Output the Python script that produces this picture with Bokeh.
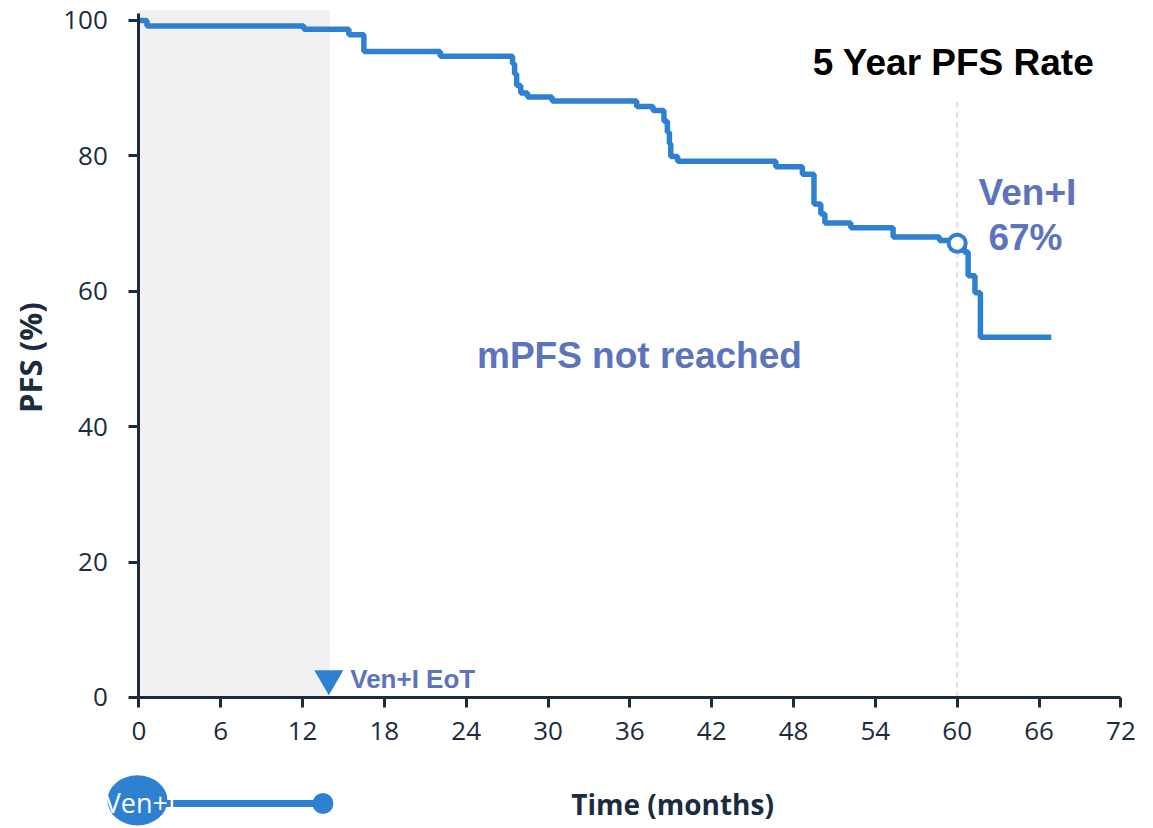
import numpy as np
from bokeh.plotting import figure
from bokeh.models import Range1d, LinearAxis, FixedTicker
from bokeh.core.properties import value
from bokeh.embed import file_html
from bokeh.resources import INLINE

# ---- data ----
km_time = [0, 0.6, 12.1, 15.4, 16.5, 22.1, 27.4, 27.55, 27.7, 28.0, 28.5, 30.3,
           36.5, 37.7, 38.5, 38.75, 38.9, 39.0, 39.5, 46.7, 48.65, 49.5, 50.0,
           50.3, 52.2, 55.3, 58.7, 60.5, 60.8, 61.3, 61.7, 66.9]
km_pfs = [100, 99.2, 98.7, 97.9, 95.4, 94.7, 93.6, 92.1, 90.4, 89.3, 88.7, 88.1,
          87.3, 86.7, 85.1, 83.5, 81.8, 79.9, 79.2, 78.4, 77.3, 72.9, 71.4,
          70.1, 69.4, 68.0, 67.5, 65.8, 62.3, 59.8, 53.2, 53.2]
x_ticks = [0, 6, 12, 18, 24, 30, 36, 42, 48, 54, 60, 66, 72]
y_ticks = [0, 20, 40, 60, 80, 100]
treatment_end = 14.0          # Ven+I end of treatment (months)
timeline_end = 13.5
five_year = 60
five_year_rate = 67.1
rate_label = "67%"

BLUE = "#2E80D1"
NAVY = "#1B2B40"
SLATE = "#5B74BC"

p = figure(width=1153, height=828,
           x_range=Range1d(-10.14, 74.39), y_range=Range1d(-19.35, 102.95),
           x_axis_type=None, y_axis_type=None, min_border=0,
           output_backend="svg", toolbar_location=None)
p.outline_line_color = None
p.background_fill_color = "white"

# shaded treatment period
p.quad(left=[0], right=[treatment_end], bottom=[0], top=[101.5],
       fill_color="#F1F1F1", line_color=None)

# 5-year dashed reference line
p.segment(x0=[five_year], y0=[0], x1=[five_year], y1=[88.6],
          line_color="#DDDDDD", line_width=2, line_dash="6 4")

# KM curve
p.step(km_time, km_pfs, mode="after", line_color=BLUE, line_width=5.5)

# 5-year marker
p.scatter([five_year], [five_year_rate], marker="circle", size=17,
          fill_color="white", line_color=BLUE, line_width=4)

# EoT triangle
p.scatter([13.93], [2.8], marker="inverted_triangle", size=29,
          fill_color=BLUE, line_color=None)
p.text([15.5], [2.8], text=["Ven+I EoT"], text_font=value("Liberation Sans"),
       text_font_style="bold", text_font_size="26px", text_color=SLATE,
       text_align="left", text_baseline="middle")

# axes
xaxis = LinearAxis(fixed_location=0, bounds=(0, 72), ticker=FixedTicker(ticks=x_ticks))
yaxis = LinearAxis(fixed_location=0, bounds=(0, 101), ticker=FixedTicker(ticks=y_ticks))
for ax in (xaxis, yaxis):
    ax.axis_line_color = NAVY
    ax.axis_line_width = 3
    ax.major_tick_line_color = NAVY
    ax.major_tick_line_width = 3
    ax.major_tick_out = 10
    ax.major_tick_in = 0
    ax.minor_tick_line_color = None
    ax.major_label_text_font = "Open Sans"
    ax.major_label_text_font_size = "26px"
    ax.major_label_text_color = NAVY
xaxis.major_label_standoff = 15
yaxis.major_label_standoff = 21
p.add_layout(xaxis, "below")
p.add_layout(yaxis, "left")

# axis titles
p.text([-8.0], [50.2], text=["PFS (%)"], angle=np.pi / 2,
       text_font=value("Open Sans"), text_font_style="bold",
       text_font_size="31px", text_color=NAVY,
       text_align="center", text_baseline="middle")
p.text([39.13], [-15.66], text=["Time (months)"],
       text_font=value("Open Sans"), text_font_style="bold",
       text_font_size="28px", text_color=NAVY,
       text_align="center", text_baseline="middle")

# annotations
p.text([59.73], [93.8], text=["5 Year PFS Rate"], text_font=value("Liberation Sans"),
       text_font_style="bold", text_font_size="37px", text_color="black",
       text_align="center", text_baseline="middle")
p.text([36.7], [50.5], text=["mPFS not reached"], text_font=value("Liberation Sans"),
       text_font_style="bold", text_font_size="37px", text_color=SLATE,
       text_align="center", text_baseline="middle")
p.text([65.15, 65.0], [74.6, 67.9], text=["Ven+I", rate_label],
       text_font=value("Liberation Sans"), text_font_style="bold",
       text_font_size="37px", text_color=SLATE,
       text_align="center", text_baseline="middle")

# timeline below the axis
p.segment(x0=[2.0], y0=[-15.66], x1=[timeline_end], y1=[-15.66],
          line_color=BLUE, line_width=7)
p.scatter([timeline_end], [-15.66], marker="circle", size=21,
          fill_color=BLUE, line_color=None)
p.ellipse(x=[-0.1], y=[-15.2], width=4.4, height=7.4,
          fill_color=BLUE, line_color=None)
p.text([0.1], [-15.5], text=["Ven+I"], text_font=value("Open Sans"),
       text_font_size="27px", text_color="white",
       text_align="center", text_baseline="middle")

open("out.html", "w").write(file_html(p, INLINE))
